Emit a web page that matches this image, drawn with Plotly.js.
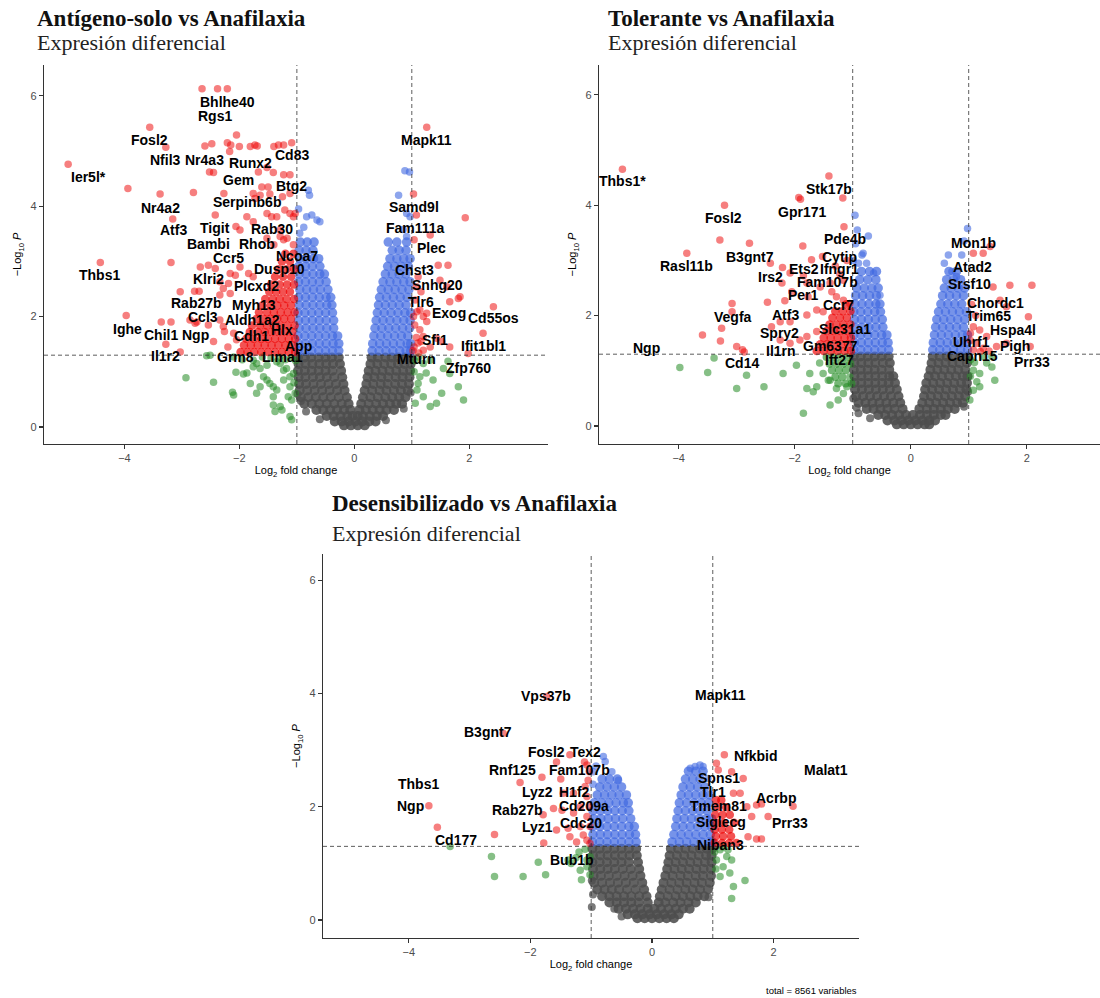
<!DOCTYPE html>
<html><head><meta charset="utf-8">
<script src="https://cdn.plot.ly/plotly-3.0.1.min.js"></script>
<style>html,body{margin:0;padding:0;background:#fff}#chart{width:1100px;height:998px}</style>
</head><body><div id="chart"></div>
<script>
// ---------------- DATA ----------------
const panelTitles = ["Antígeno-solo vs Anafilaxia", "Tolerante vs Anafilaxia", "Desensibilizado vs Anafilaxia"];
const panelSubtitle = "Expresión diferencial";
const caption = "total = 8561 variables";
const xTicks = [-4, -2, 0, 2];
const yTicks = [0, 2, 4, 6];
const fcCut = 1;
const pCut = -Math.log10(0.05);

// rows: [log10P, log2FC, log2FC, ...]   pts: [log2FC, log10P]
// ---- Panel 1: Antígeno-solo vs Anafilaxia ----
const grey1Rows = [
 [1.26,-0.98,-0.86,-0.75,-0.62,-0.50,-0.39,-0.27,0.30,0.41,0.54,0.65,0.76,0.88,0.98],
 [1.14,-0.97,-0.85,-0.73,-0.61,-0.49,-0.37,-0.25,0.28,0.40,0.52,0.64,0.76,0.87,0.98],
 [1.02,-0.98,-0.86,-0.74,-0.62,-0.50,-0.38,-0.23,0.25,0.37,0.49,0.61,0.73,0.85,0.97],
 [0.90,-0.97,-0.85,-0.72,-0.60,-0.48,-0.35,-0.21,0.23,0.35,0.47,0.59,0.72,0.84,0.96],
 [0.78,-0.96,-0.84,-0.71,-0.58,-0.45,-0.32,-0.19,0.21,0.33,0.46,0.58,0.71,0.83,0.95],
 [0.66,-0.95,-0.82,-0.69,-0.56,-0.43,-0.30,-0.17,0.18,0.31,0.44,0.56,0.69,0.81,0.93],
 [0.54,-0.93,-0.80,-0.67,-0.54,-0.41,-0.27,-0.13,0.15,0.28,0.41,0.54,0.66,0.78,0.89],
 [0.42,-0.87,-0.74,-0.61,-0.48,-0.35,-0.22,-0.10,0.12,0.25,0.38,0.50,0.62,0.73,0.83],
 [0.31,-0.66,-0.54,-0.42,-0.30,-0.18,-0.07,0.09,0.20,0.32,0.44,0.56,0.69],
 [0.20,-0.48,-0.36,-0.24,-0.12,-0.03,0.06,0.15,0.27,0.39,0.50],
 [0.10,-0.34,-0.22,-0.10,0.02,0.14,0.26,0.37],
 [0.03,-0.18,-0.06,0.06,0.18]
];
const grey1Pts = [[-0.93,0.47],[-0.84,0.28],[0.86,0.33],[0.98,0.62],[-0.99,0.60],[-0.60,0.14],[0.55,0.12]];
const blue1Rows = [
 [1.38,-0.98,-0.86,-0.74,-0.62,-0.50,-0.38,-0.27,0.31,0.43,0.55,0.67,0.79,0.90,0.98],
 [1.51,-0.97,-0.85,-0.73,-0.61,-0.49,-0.37,-0.27,0.32,0.44,0.56,0.68,0.80,0.92,0.98],
 [1.65,-0.98,-0.86,-0.74,-0.62,-0.50,-0.38,-0.29,0.34,0.46,0.58,0.70,0.82,0.93],
 [1.79,-0.96,-0.84,-0.72,-0.60,-0.48,-0.36,0.36,0.48,0.60,0.72,0.84,0.96],
 [1.93,-0.97,-0.85,-0.73,-0.61,-0.49,-0.36,0.38,0.50,0.62,0.74,0.86,0.97],
 [2.07,-0.98,-0.86,-0.74,-0.62,-0.50,-0.38,0.40,0.52,0.64,0.76,0.88,0.98],
 [2.21,-0.96,-0.84,-0.72,-0.60,-0.48,-0.39,0.42,0.54,0.66,0.78,0.90],
 [2.35,-0.97,-0.85,-0.73,-0.61,-0.49,-0.41,0.44,0.56,0.68,0.80,0.92],
 [2.49,-0.95,-0.83,-0.71,-0.59,-0.46,0.47,0.59,0.71,0.83,0.95],
 [2.63,-0.97,-0.85,-0.73,-0.61,-0.49,0.50,0.62,0.74,0.86,0.97],
 [2.77,-0.96,-0.84,-0.72,-0.60,-0.52,0.54,0.66,0.78,0.90],
 [2.91,-0.97,-0.85,-0.73,-0.60,0.58,0.70,0.82,0.94],
 [3.05,-0.95,-0.83,-0.71,-0.62,0.62,0.74,0.86,0.97],
 [3.20,-0.96,-0.84,-0.72,0.66,0.78,0.90],
 [3.35,-0.94,-0.82,-0.70,0.59,0.74,0.91]
];
const blue1Pts = [[-0.95,3.51],[-0.83,3.81],[-0.74,3.84],[-0.65,3.75],[-0.60,3.72],[-0.80,4.29],[-0.78,4.20],[-0.88,3.62],[0.88,4.64],[0.96,4.62],[0.77,4.20],[0.91,3.87],[0.97,3.81],[0.91,3.45],[0.85,3.58],[-0.97,3.95]];
const red1Rows = [
 [1.36,-1.98,-1.86,-1.74,-1.62,-1.50,-1.38,-1.26,-1.14,-1.03],
 [1.48,-1.92,-1.80,-1.68,-1.56,-1.44,-1.32,-1.20,-1.08],
 [1.60,-1.88,-1.75,-1.62,-1.50,-1.38,-1.26,-1.14,-1.03],
 [1.72,-1.82,-1.68,-1.56,-1.44,-1.32,-1.20,-1.08],
 [1.84,-1.78,-1.64,-1.52,-1.40,-1.28,-1.16,-1.04],
 [1.96,-1.70,-1.58,-1.46,-1.34,-1.22,-1.10],
 [2.08,-1.66,-1.52,-1.40,-1.28,-1.16,-1.04],
 [2.20,-1.60,-1.46,-1.34,-1.22,-1.10],
 [2.32,-1.55,-1.42,-1.30,-1.18,-1.05],
 [2.45,-1.48,-1.36,-1.24,-1.12],
 [2.58,-1.45,-1.30,-1.17,-1.05],
 [2.72,-1.38,-1.24,-1.10],
 [2.86,-1.32,-1.18,-1.05],
 [3.00,-1.26,-1.12],
 [3.14,-1.20,-1.06]
];
const red1Pts = [
 [-4.98,4.76],[-3.94,4.32],[-3.56,5.43],[-3.28,5.07],[-3.38,4.22],[-3.16,3.77],[-2.80,4.25],
 [-2.65,6.13],[-2.38,6.13],[-2.21,6.13],[-2.05,5.29],
 [-2.60,5.09],[-2.48,5.13],[-2.21,5.15],[-2.15,5.11],[-2.00,5.08],[-2.17,4.99],[-1.81,5.08],[-1.73,5.11],[-1.69,5.09],
 [-1.40,5.08],[-1.32,5.11],[-1.23,5.11],[-1.09,5.15],
 [-2.52,4.62],[-2.45,4.61],[-1.67,4.62],[-1.52,4.70],[-1.41,4.61],[-1.23,4.57],[-1.12,4.57],
 [-1.61,4.35],[-1.50,4.35],[-1.47,4.22],[-2.27,4.23],[-1.76,4.23],[-1.73,4.14],[-1.64,4.20],[-1.25,4.17],[-1.12,4.23],
 [-1.21,3.93],[-1.12,3.87],[-1.06,3.81],[-1.03,3.87],[-1.52,3.87],[-1.44,3.81],[-1.87,3.81],[-1.76,3.72],[-2.42,3.84],[-2.06,3.63],[-1.99,3.57],[-1.29,3.57],[-1.35,3.81],
 [-1.29,3.45],[-1.23,3.39],[-1.17,3.42],[-1.52,3.42],[-1.40,3.30],[-1.06,3.30],
 [-4.42,2.98],[-3.19,2.98],[-3.03,2.45],[-3.97,2.02],[-3.36,1.90],[-3.19,1.90],[-3.28,1.50],[-2.78,2.46],[-2.70,2.46],[-2.74,1.90],[-2.54,1.85],[-3.03,1.36],
 [-2.68,2.90],[-2.54,2.93],[-2.42,2.87],[-2.26,1.73],[-2.16,2.78],[-2.07,2.75],[-1.99,2.90],[-1.84,2.78],[-1.76,2.72],[-2.34,2.63],[-2.28,2.51],[-2.19,2.60],
 [-2.86,1.94],[-2.77,1.88],[-2.34,1.94],[-2.28,1.82],[-2.10,1.70],[-2.05,1.58],[-2.34,2.39],[-2.16,2.42],[-2.20,1.45],[-2.45,1.55],
 [1.26,5.43],[1.03,4.22],[1.08,3.84],[1.93,3.79],[1.32,3.48],[1.04,3.39],[1.46,2.93],[1.63,2.93],[1.49,2.66],[1.61,2.54],[1.84,2.36],[1.66,2.27],[1.81,2.33],[2.42,2.18],
 [1.14,2.12],[1.20,2.00],[1.26,2.06],[1.11,2.72],[1.08,2.54],[1.09,2.09],[1.26,1.91],[1.14,1.76],[1.20,1.64],[1.11,1.52],[1.32,1.45],[1.20,1.39],[2.24,1.70],[1.66,1.45],
 [1.98,1.33],[1.43,1.61],[1.52,1.55],[1.05,1.85],[1.04,1.45],[1.06,2.30],[1.16,2.45],[1.02,1.38],[1.08,1.62],[1.03,2.00],[1.12,1.34],[1.16,1.55]
];
const green1Rows = [];
const green1Pts = [
 [1.20,1.15],[1.32,1.21],[1.55,1.06],[1.81,0.73],[1.90,0.49],[1.43,0.43],[1.32,0.37],[1.20,0.55],[1.09,0.67],[1.11,0.79],[1.14,0.91],[1.37,0.85],[1.52,0.61],[1.66,0.97],[1.06,0.43],[1.04,1.00],[1.05,1.20],[1.25,0.98],[1.63,1.19],[1.12,1.27],
 [-2.93,0.89],[-2.45,0.81],[-2.12,0.63],[-2.10,0.58],[-2.06,0.99],[-1.93,0.96],[-1.87,0.98],[-1.76,1.09],[-1.64,1.06],[-1.52,1.12],[-1.52,0.85],[-1.41,0.73],[-1.70,0.61],[-1.81,0.79],
 [-1.41,0.40],[-1.38,0.28],[-1.26,0.31],[-1.09,0.13],[-2.57,1.29],[-2.51,1.30],[-2.10,1.27],[-1.76,1.21],[-1.29,1.15],[-1.18,1.06],[-1.06,0.97],[-1.23,0.85],[-1.12,0.73],[-1.03,0.61],
 [-1.70,1.15],[-1.58,0.91],[-1.47,0.79],[-1.35,0.67],[-1.23,1.03],[-1.12,0.91],[-1.09,0.49],[-1.29,0.37],[-1.12,0.19],[-1.41,0.55],[-1.64,0.73],[-1.02,1.20],[-1.10,1.25],[-1.20,1.22],
 [-1.35,1.18],[-1.45,1.25],[-1.05,0.80],[-1.15,0.55],[-1.95,1.22],[-1.60,1.27],[-1.30,1.27]
];
const labels1 = ["Ier5l*","Fosl2","Bhlhe40","Rgs1","Nfil3","Nr4a3","Runx2","Cd83","Gem","Btg2","Serpinb6b","Nr4a2","Atf3","Tigit","Rab30","Bambi","Rhob","Ccr5","Ncoa7","Dusp10","Thbs1","Klri2","Plcxd2","Rab27b","Myh13","Ccl3","Aldh1a2","Ighe","Chil1","Ngp","Cdh1","Hlx","App","Il1r2","Grm8","Lima1","Mapk11","Samd9l","Fam111a","Plec","Chst3","Snhg20","Tlr6","Exog","Cd55os","Sfi1","Ifit1bl1","Mturn","Zfp760"];

// ---- Panel 2: Tolerante vs Anafilaxia ----
const grey2Rows = [
 [1.26,-0.98,-0.86,-0.74,-0.62,-0.50,-0.38,0.38,0.50,0.62,0.74,0.86,0.98],
 [1.14,-0.97,-0.85,-0.73,-0.61,-0.48,-0.36,0.36,0.48,0.60,0.72,0.84,0.97],
 [1.02,-0.98,-0.86,-0.74,-0.62,-0.50,-0.37,0.34,0.46,0.58,0.70,0.82,0.94],
 [0.90,-0.97,-0.85,-0.73,-0.61,-0.49,-0.37,-0.30,0.31,0.42,0.54,0.66,0.78,0.90,0.98],
 [0.78,-0.97,-0.85,-0.73,-0.61,-0.49,-0.38,-0.27,0.27,0.39,0.51,0.63,0.75,0.87,0.97],
 [0.66,-0.96,-0.84,-0.72,-0.60,-0.48,-0.36,-0.24,0.25,0.37,0.49,0.61,0.73,0.85,0.96],
 [0.54,-0.94,-0.82,-0.70,-0.58,-0.46,-0.34,-0.21,0.23,0.35,0.47,0.59,0.71,0.83,0.94],
 [0.42,-0.90,-0.78,-0.66,-0.54,-0.42,-0.30,-0.18,0.20,0.32,0.44,0.56,0.68,0.80,0.90],
 [0.31,-0.76,-0.64,-0.52,-0.40,-0.28,-0.14,0.15,0.28,0.40,0.52,0.64,0.76],
 [0.20,-0.56,-0.44,-0.32,-0.20,-0.08,0.04,0.16,0.28,0.40,0.52,0.60],
 [0.10,-0.40,-0.28,-0.16,-0.04,0.08,0.20,0.32,0.42],
 [0.03,-0.24,-0.12,0.00,0.12,0.24,0.32]
];
const grey2Pts = [[-0.90,0.23],[-0.93,0.33],[0.92,0.35],[-0.99,0.50],[0.99,0.62],[-0.70,0.14]];
const blue2Rows = [
 [1.38,-0.98,-0.86,-0.74,-0.62,-0.50,-0.38,0.38,0.50,0.62,0.74,0.86,0.98],
 [1.51,-0.97,-0.85,-0.73,-0.61,-0.49,-0.39,0.39,0.51,0.63,0.75,0.87,0.97],
 [1.65,-0.98,-0.86,-0.74,-0.62,-0.50,-0.41,0.41,0.53,0.65,0.77,0.89,0.98],
 [1.79,-0.96,-0.84,-0.72,-0.60,-0.48,0.43,0.55,0.67,0.79,0.91],
 [1.93,-0.97,-0.85,-0.73,-0.61,-0.49,0.45,0.57,0.69,0.81,0.93],
 [2.07,-0.98,-0.86,-0.74,-0.62,-0.52,0.48,0.60,0.72,0.84,0.96],
 [2.21,-0.96,-0.84,-0.72,-0.60,-0.53,0.52,0.64,0.76,0.88],
 [2.36,-0.95,-0.83,-0.71,-0.59,0.55,0.67,0.79,0.91],
 [2.50,-0.93,-0.80,-0.67,-0.56,0.58,0.70,0.82,0.93],
 [2.65,-0.88,-0.74,-0.60,0.62,0.74,0.86],
 [2.80,-0.85,-0.71,-0.59,0.66,0.79]
];
const blue2Pts = [[-0.96,3.82],[-0.73,3.44],[-0.82,3.13],[-0.84,3.10],[-0.76,2.95],[-0.64,2.77],[-0.53,2.37],[-0.95,3.30],[-0.90,2.95],[0.65,3.10],[0.88,3.10],[0.71,2.80],[0.79,2.71],[0.98,3.58],[0.92,3.35],[0.58,2.95],[-0.92,3.55],[-0.99,3.00]];
const red2Rows = [
 [1.36,-1.62,-1.50,-1.38,-1.26,-1.14,-1.03],
 [1.48,-1.56,-1.44,-1.32,-1.20,-1.08],
 [1.60,-1.50,-1.38,-1.26,-1.14,-1.03],
 [1.72,-1.45,-1.33,-1.21,-1.09],
 [1.84,-1.40,-1.28,-1.16,-1.04],
 [1.96,-1.35,-1.22,-1.10],
 [2.08,-1.30,-1.17,-1.04],
 [2.20,-1.12]
];
const red2Pts = [
 [-4.97,4.65],[-1.41,4.53],[-1.93,4.14],[-1.90,4.11],[-1.17,4.13],[-3.21,4.00],[-1.15,3.61],[-3.29,3.37],[-2.78,3.31],[-3.86,3.13],[-1.86,3.26],[-1.71,3.01],[-1.52,3.07],
 [-2.21,2.87],[-2.42,2.95],[-2.08,2.77],[-2.22,2.59],[-1.85,2.72],[-1.79,2.59],[-1.56,2.52],[-1.39,2.59],[-1.16,2.64],[-2.05,2.43],[-1.77,2.34],[-3.08,2.22],[-2.47,2.24],[-2.17,2.27],
 [-3.08,2.07],[-3.26,1.77],[-3.59,1.65],[-3.28,1.54],[-3.00,1.44],[-2.90,1.38],[-2.87,1.34],[-2.40,1.80],[-2.25,1.89],[-2.08,1.89],[-1.79,2.01],[-1.62,2.10],[-1.51,2.07],
 [-2.25,1.56],[-2.08,1.50],[-1.91,1.56],[-1.79,1.62],[-1.62,1.71],[-1.36,2.43],[-1.28,2.34],[-1.16,2.28],[-1.05,2.22],[-1.30,2.90],[-1.10,3.00],[-1.22,2.75],
 [1.08,3.13],[1.25,3.13],[1.37,3.25],[1.42,2.52],[1.71,2.55],[2.09,2.55],[1.54,2.28],[1.65,2.16],[2.03,1.98],[1.08,1.80],[1.19,1.74],[1.31,1.62],[1.14,1.50],[1.08,1.38],
 [1.25,1.41],[1.48,1.44],[1.65,1.50],[2.06,1.44],[1.03,1.55],[1.03,1.68],[1.12,2.00],[1.05,2.20],[1.20,1.35],[1.35,1.36]
];
const green2Rows = [
 [1.25,-1.45,-1.33,-1.21,-1.09],
 [1.13,-1.40,-1.28,-1.16,-1.04],
 [1.01,-1.36,-1.24,-1.12],
 [0.89,-1.30,-1.18],
 [0.77,-1.25,-1.12,-1.02]
];
const green2Pts = [
 [-3.98,1.06],[-3.50,0.97],[-3.39,1.23],[-3.00,0.68],[-2.83,0.92],[-2.53,0.71],[-2.20,0.95],[-1.97,1.10],[-1.79,0.68],[-1.62,0.71],[-1.51,0.95],[-1.39,0.83],[-1.28,0.68],[-1.16,0.59],
 [-1.68,0.62],[-1.85,0.23],[-1.39,0.38],[-1.25,0.47],[-1.10,0.71],[-1.05,0.89],[-1.42,0.83],[-1.57,1.14],[-1.74,0.95],
 [1.08,1.01],[1.19,0.95],[1.31,1.14],[1.40,1.07],[1.45,0.83],[1.19,0.71],[1.08,0.65],[1.02,0.47],[1.14,0.80],[1.25,1.26],[1.40,1.26],[1.03,1.20],[1.10,1.15],[1.03,0.90]
];
const labels2 = ["Thbs1*","Stk17b","Gpr171","Fosl2","Pde4b","B3gnt7","Cytip","Rasl11b","Ets2","Ifngr1","Irs2","Fam107b","Per1","Ccr7","Atf3","Vegfa","Slc31a1","Spry2","Ngp","Gm6377","Il1rn","Ift27","Cd14","Mon1b","Atad2","Srsf10","Chordc1","Trim65","Hspa4l","Uhrf1","Pigh","Capn15","Prr33"];

// ---- Panel 3: Desensibilizado vs Anafilaxia ----
const grey3Rows = [
 [1.26,-0.98,-0.86,-0.74,-0.62,-0.50,-0.38,-0.26,0.31,0.43,0.55,0.67,0.79,0.90,0.99],
 [1.14,-0.97,-0.85,-0.73,-0.61,-0.49,-0.37,-0.25,0.29,0.41,0.53,0.65,0.77,0.89,0.98],
 [1.02,-0.98,-0.86,-0.74,-0.62,-0.50,-0.38,-0.23,0.27,0.39,0.51,0.63,0.75,0.87,0.98],
 [0.90,-0.97,-0.85,-0.73,-0.61,-0.48,-0.35,-0.21,0.25,0.37,0.49,0.61,0.73,0.85,0.97],
 [0.78,-0.96,-0.84,-0.71,-0.58,-0.45,-0.32,-0.19,0.22,0.34,0.47,0.59,0.72,0.84,0.97],
 [0.66,-0.95,-0.82,-0.69,-0.56,-0.43,-0.30,-0.16,0.19,0.32,0.45,0.57,0.70,0.82,0.95],
 [0.54,-0.90,-0.78,-0.66,-0.54,-0.41,-0.27,-0.13,0.16,0.29,0.42,0.55,0.67,0.79,0.92],
 [0.42,-0.82,-0.70,-0.58,-0.46,-0.34,-0.21,-0.09,0.13,0.26,0.39,0.51,0.63,0.75,0.86],
 [0.31,-0.70,-0.58,-0.46,-0.34,-0.22,-0.07,0.11,0.22,0.35,0.47,0.60,0.72],
 [0.20,-0.55,-0.43,-0.31,-0.19,-0.07,0.04,0.15,0.27,0.39,0.51,0.62],
 [0.10,-0.40,-0.28,-0.16,-0.04,0.08,0.20,0.32,0.44],
 [0.03,-0.24,-0.12,0.00,0.12,0.24,0.36]
];
const grey3Pts = [[-0.99,0.23],[-0.97,0.45],[-0.99,0.70],[-0.50,0.06],[-0.62,0.20],[0.93,0.40]];
const blue3Rows = [
 [1.38,-0.98,-0.86,-0.74,-0.62,-0.50,-0.38,-0.26,0.33,0.45,0.57,0.69,0.81,0.93,0.99],
 [1.51,-0.97,-0.85,-0.73,-0.61,-0.49,-0.37,-0.27,0.36,0.48,0.60,0.72,0.84,0.96],
 [1.65,-0.98,-0.86,-0.74,-0.62,-0.50,-0.38,-0.29,0.39,0.51,0.63,0.75,0.87,0.98],
 [1.79,-0.96,-0.84,-0.72,-0.60,-0.48,-0.35,0.41,0.53,0.65,0.77,0.89,0.98],
 [1.93,-0.97,-0.85,-0.73,-0.61,-0.49,-0.38,0.43,0.55,0.67,0.79,0.91],
 [2.07,-0.95,-0.83,-0.71,-0.59,-0.47,-0.39,0.45,0.57,0.69,0.81,0.93],
 [2.21,-0.90,-0.78,-0.66,-0.54,-0.42,0.48,0.60,0.72,0.84,0.95],
 [2.35,-0.86,-0.74,-0.62,-0.50,0.51,0.63,0.75,0.87],
 [2.49,-0.82,-0.70,-0.57,0.55,0.67,0.79],
 [2.63,0.60,0.72,0.84]
];
const blue3Pts = [[-0.80,2.89],[-0.77,2.80],[-0.92,2.72],[-0.66,2.62],[0.63,2.68],[0.71,2.71],[0.79,2.74],[0.84,2.71],[-0.97,2.40],[0.92,2.50],[-0.97,2.62],[-0.55,2.47]];
const red3Rows = [
 [1.36,1.03,1.15,1.27,1.39],
 [1.48,1.05,1.17,1.30],
 [1.60,1.03,1.15,1.27],
 [1.72,1.06,1.18,1.35],
 [1.86,1.04,1.16,1.28],
 [1.99,1.08,1.22],
 [2.12,1.05,1.14]
];
const red3Pts = [
 [-1.73,3.95],[-2.45,3.30],[-3.67,2.02],[-3.53,1.64],[-2.59,1.51],[-1.78,1.36],[-1.57,2.79],[-1.35,2.92],[-1.11,2.79],[-1.07,2.74],[-1.81,2.52],[-1.50,2.49],[-2.17,2.43],
 [-1.46,2.24],[-1.29,2.24],[-1.07,2.18],[-1.10,2.36],[-1.05,2.47],[-1.79,1.86],[-1.62,1.97],[-1.48,1.94],[-1.29,1.89],[-1.18,2.00],[-1.07,1.83],[-1.57,1.59],[-1.38,1.62],
 [-1.18,1.65],[-1.35,1.47],[-1.13,1.50],[-1.07,1.41],[-1.24,1.38],[-1.02,1.65],[-1.03,2.00],[-1.02,1.35],[-1.03,2.62],
 [1.19,2.92],[1.06,2.77],[1.09,2.65],[1.31,2.62],[1.50,2.50],[1.34,2.24],[1.45,2.24],[1.72,2.03],[1.80,2.05],[2.32,2.01],[1.91,1.83],[1.64,1.83],[1.56,2.00],[1.58,1.47],[1.72,1.43],[1.80,1.43]
];
const green3Rows = [];
const green3Pts = [
 [-2.64,1.12],[-1.87,1.02],[-2.59,0.77],[-2.12,0.77],[-1.75,0.80],[-1.38,1.06],[-1.33,1.00],[-1.18,0.88],[-1.16,0.71],[-1.07,1.06],[-1.02,1.12],[-1.07,0.94],[-3.32,1.30],[-1.10,1.25],[-1.20,1.20],[-1.02,0.80],[-1.25,1.10],
 [1.12,1.24],[1.23,1.12],[1.31,1.06],[1.17,0.94],[1.28,0.83],[1.34,0.59],[1.53,0.70],[1.31,0.38],[1.12,0.77],[1.06,1.06],[1.25,1.24],[1.17,1.29],[1.03,1.20],[1.05,0.90]
];
const labels3 = ["Vps37b","B3gnt7","Fosl2","Tex2","Rnf125","Fam107b","Thbs1","Lyz2","H1f2","Ngp","Rab27b","Cd209a","Lyz1","Cdc20","Cd177","Bub1b","Mapk11","Nfkbid","Malat1","Spns1","Tlr1","Acrbp","Tmem81","Siglecg","Prr33","Niban3"];

// ---------------- LAYOUT (label placement, in axis units) ----------------
const labelPos1 = [[-4.63,4.53],[-3.56,5.20],[-2.20,5.89],[-2.42,5.64],[-3.28,4.83],[-2.60,4.83],[-1.81,4.78],[-1.08,4.93],[-2.01,4.47],[-1.10,4.37],[-1.87,4.08],[-3.38,3.96],[-3.15,3.56],[-2.42,3.60],[-1.43,3.58],[-2.53,3.32],[-1.69,3.32],[-2.19,3.06],[-1.00,3.10],[-1.31,2.87],[-4.43,2.75],[-2.53,2.69],[-1.70,2.55],[-2.75,2.24],[-1.74,2.21],[-2.63,2.00],[-1.77,1.94],[-3.94,1.77],[-3.37,1.67],[-2.76,1.67],[-1.79,1.64],[-1.25,1.76],[-0.97,1.47],[-3.28,1.29],[-2.06,1.26],[-1.25,1.26],[1.25,5.20],[1.04,3.99],[1.07,3.60],[1.34,3.24],[1.04,2.84],[1.45,2.57],[1.16,2.27],[1.65,2.06],[2.43,1.97],[1.40,1.58],[2.25,1.47],[1.08,1.24],[1.98,1.06]];
const labelPos2 = [[-4.97,4.43],[-1.41,4.29],[-1.88,3.88],[-3.22,3.76],[-1.14,3.38],[-2.77,3.07],[-1.22,3.07],[-3.86,2.90],[-1.84,2.85],[-1.22,2.85],[-2.42,2.70],[-1.43,2.61],[-1.84,2.37],[-1.24,2.19],[-2.15,2.01],[-3.06,1.98],[-1.14,1.75],[-2.26,1.68],[-4.56,1.41],[-1.39,1.45],[-2.23,1.35],[-1.22,1.20],[-2.91,1.14],[1.09,3.32],[1.07,2.88],[1.01,2.58],[1.47,2.23],[1.35,2.00],[1.76,1.74],[1.04,1.52],[1.80,1.45],[1.06,1.26],[2.09,1.16]];
const labelPos3 = [[-1.75,3.95],[-2.69,3.33],[-1.73,2.97],[-1.09,2.97],[-2.29,2.65],[-1.19,2.65],[-3.84,2.41],[-1.88,2.27],[-1.28,2.27],[-3.97,2.01],[-2.21,1.94],[-1.11,2.01],[-1.88,1.65],[-1.16,1.71],[-3.22,1.41],[-1.32,1.06],[1.12,3.98],[1.71,2.90],[2.87,2.65],[1.10,2.50],[1.01,2.27],[2.04,2.16],[1.10,2.01],[1.13,1.74],[2.27,1.71],[1.13,1.33]];

// ---------------- BUILD ----------------
const W = 1100, H = 998;
const PX = v => v / W, PY = v => 1 - v / H;
const geo = [
  {xd:[44,548],  yd:[65,444],  xr:[-5.40,3.37],   yr:[-0.308,6.558], t:[35,19],  s:[35,42]},
  {xd:[599,1100],yd:[65,444],  xr:[-5.374,3.264], yr:[-0.326,6.54],  t:[606,19], s:[606,42]},
  {xd:[323,859], yd:[554,938], xr:[-5.411,3.405], yr:[-0.318,6.466], t:[330,503],s:[330,533]}
];
const panelData = [
  {grey:[grey1Rows,grey1Pts], green:[green1Rows,green1Pts], blue:[blue1Rows,blue1Pts], red:[red1Rows,red1Pts], labels:labels1, pos:labelPos1},
  {grey:[grey2Rows,grey2Pts], green:[green2Rows,green2Pts], blue:[blue2Rows,blue2Pts], red:[red2Rows,red2Pts], labels:labels2, pos:labelPos2},
  {grey:[grey3Rows,grey3Pts], green:[green3Rows,green3Pts], blue:[blue3Rows,blue3Pts], red:[red3Rows,red3Pts], labels:labels3, pos:labelPos3}
];
// dense clouds (rows) drawn more opaque, isolated points lighter
const style = {
  grey: {color:'#4D4D4D', dense:{size:10, opacity:0.88}, sparse:{size:8, opacity:0.75}},
  green:{color:'#228B22', dense:{size:8,  opacity:0.62}, sparse:{size:7.5, opacity:0.55}},
  blue: {color:'#4169E1', dense:{size:9.5,opacity:0.72}, sparse:{size:7.5, opacity:0.6}},
  red:  {color:'#EE0000', dense:{size:8.5,opacity:0.68}, sparse:{size:7.5, opacity:0.5}}
};
function fromRows(rows){
  const x=[], y=[];
  rows.forEach(r => { for (let i=1;i<r.length;i++){ x.push(r[i]); y.push(r[0]); } });
  return {x, y};
}
function fromPts(pts){ return {x:pts.map(p=>p[0]), y:pts.map(p=>p[1])}; }
const sans = 'Liberation Sans, Arial, sans-serif';
const serif = 'Liberation Serif, Times New Roman, serif';
const traces = [], shapes = [], annotations = [];
const layout = {
  width:W, height:H, margin:{l:0,r:0,t:0,b:0}, showlegend:false,
  paper_bgcolor:'#fff', plot_bgcolor:'#fff', font:{family:sans, color:'#000'}
};
panelData.forEach((pd, i) => {
  const g = geo[i];
  const sfx = i === 0 ? '' : String(i+1);
  const xa = 'x'+sfx, ya = 'y'+sfx;
  ['grey','green','blue','red'].forEach(k => {
    const st = style[k];
    [[fromRows(pd[k][0]), st.dense], [fromPts(pd[k][1]), st.sparse]].forEach(([d, m]) => {
      if (!d.x.length) return;
      traces.push({type:'scatter', mode:'markers', x:d.x, y:d.y, xaxis:xa, yaxis:ya, hoverinfo:'skip',
        marker:{color:st.color, size:m.size, opacity:m.opacity, line:{width:0}}});
    });
  });
  const common = {showline:true, linecolor:'#333', linewidth:1.1, ticks:'outside', ticklen:4, tickwidth:1.1,
    tickcolor:'#333', tickfont:{family:sans, size:11, color:'#4D4D4D'}, showgrid:false, zeroline:false};
  layout['xaxis'+sfx] = Object.assign({}, common, {domain:[PX(g.xd[0]),PX(g.xd[1])], range:g.xr, anchor:ya,
    tickvals:xTicks, title:{text:'Log<sub>2</sub> fold change', font:{family:sans,size:11,color:'#000'}, standoff:3}});
  layout['yaxis'+sfx] = Object.assign({}, common, {domain:[PY(g.yd[1]),PY(g.yd[0])], range:g.yr, anchor:xa,
    tickvals:yTicks, title:{text:'\u2212Log<sub>10</sub> <i>P</i>', font:{family:sans,size:11,color:'#000'}, standoff:6}});
  const dl = {color:'#333', width:0.8, dash:'4px,3px'};
  [-fcCut, fcCut].forEach(v => shapes.push({type:'line', xref:xa, yref:ya+' domain', x0:v, x1:v, y0:0, y1:1, line:dl}));
  shapes.push({type:'line', xref:xa+' domain', yref:ya, x0:0, x1:1, y0:pCut, y1:pCut, line:dl});
  annotations.push({xref:'paper', yref:'paper', x:PX(g.t[0]), y:PY(g.t[1]), xanchor:'left', yanchor:'middle', showarrow:false,
    text:'<b>'+panelTitles[i]+'</b>', font:{family:serif, size:23, color:'#111'}});
  annotations.push({xref:'paper', yref:'paper', x:PX(g.s[0]), y:PY(g.s[1]), xanchor:'left', yanchor:'middle', showarrow:false,
    text:panelSubtitle, font:{family:serif, size:22, color:'#222'}});
  pd.labels.forEach((name, j) => {
    annotations.push({xref:xa, yref:ya, x:pd.pos[j][0], y:pd.pos[j][1], xanchor:'center', yanchor:'middle', showarrow:false,
      text:'<b>'+name+'</b>', font:{family:sans, size:14, color:'#000'}});
  });
});
annotations.push({xref:'paper', yref:'paper', x:PX(859), y:PY(990), xanchor:'right', yanchor:'middle', showarrow:false,
  text:caption, font:{family:sans, size:9.5, color:'#000'}});
layout.shapes = shapes;
layout.annotations = annotations;
Plotly.newPlot('chart', traces, layout, {staticPlot:true, displayModeBar:false});
</script></body></html>
